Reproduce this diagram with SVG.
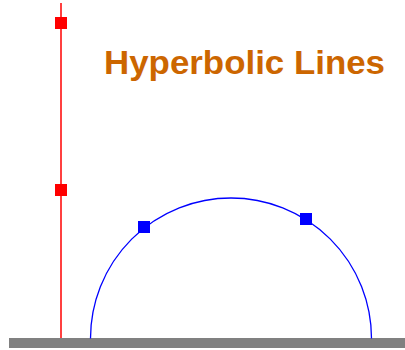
<svg xmlns="http://www.w3.org/2000/svg" width="405" height="350" viewBox="0 0 405 350">
<style>
.red{stroke:#FF0000;stroke-width:1.5;fill:none}
.blue{stroke:#0000FF;stroke-width:1.3;fill:none}
.rpt{fill:#FF0000}
.bpt{fill:#0000FF}
.title{font-family:"Liberation Sans",Arial,sans-serif;font-weight:bold;font-size:34px;fill:#CC6600}
</style>
<rect width="405" height="350" fill="#FFFFFF"/>
<g id="ground"><rect x="9" y="338" width="396" height="10" fill="#808080"/></g>
<g id="connectors">
<line class="red" x1="61" y1="3" x2="61" y2="338"/>
<path class="blue" d="M90.5,338.5 A140.5,140.5 0 0 1 371.5,338.5"/>
</g>
<g id="p1"><rect class="rpt" x="55" y="17" width="12" height="12"/></g>
<g id="p2"><rect class="rpt" x="55" y="184" width="12" height="12"/></g>
<g id="p3"><rect class="bpt" x="138" y="221" width="12" height="12"/></g>
<g id="p4"><rect class="bpt" x="300" y="213" width="12" height="12"/></g>
<g id="title"><text class="title" x="104" y="74" textLength="281" lengthAdjust="spacingAndGlyphs">Hyperbolic Lines</text></g>
</svg>
